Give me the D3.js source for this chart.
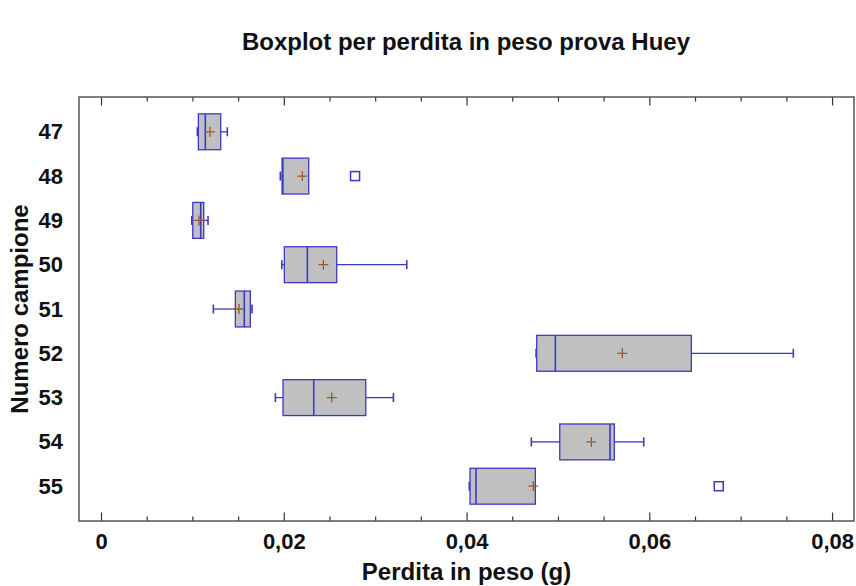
<!DOCTYPE html>
<html>
<head>
<meta charset="utf-8">
<script src="https://cdn.jsdelivr.net/npm/d3@7"></script>
<style>
	body { margin: 0; background: #fff; }
	text { font-family: Arial, "Liberation Sans", sans-serif; font-weight: bold; fill: #111; }
</style>
</head>
<body>
<div id="chart-area"></div>
<script>

// data
var campioni = ["47", "48", "49", "50", "51", "52", "53", "54", "55"];
var minimo   = [0.01054, 0.01962, 0.00993, 0.01978, 0.01229, 0.04761, 0.01908, 0.04709, 0.04030];
var q1       = [0.01065, 0.01981, 0.01004, 0.02006, 0.01470, 0.04768, 0.01992, 0.05020, 0.04038];
var mediana  = [0.01141, 0.01990, 0.01091, 0.02258, 0.01568, 0.04972, 0.02328, 0.05570, 0.04104];
var media    = [0.01193, 0.02203, 0.01072, 0.02433, 0.01510, 0.05705, 0.02525, 0.05366, 0.04731];
var q3       = [0.01310, 0.02273, 0.01124, 0.02579, 0.01634, 0.06460, 0.02897, 0.05617, 0.04753];
var massimo  = [0.01382, 0.02273, 0.01171, 0.03346, 0.01653, 0.07576, 0.03200, 0.05939, 0.04753];
var anomali  = [[], [0.0278], [], [], [], [], [], [], [0.0676]];
var xTicks   = [0, 0.02, 0.04, 0.06, 0.08];

const widthinput = 856;
const heightinput = 586;

var margin = { top: 97, right: 2, bottom: 65, left: 79 };
var width = widthinput - margin.left - margin.right,
	height = heightinput - margin.top - margin.bottom;

var svg = d3.select("#chart-area")
		.append("svg")
			.attr("width", widthinput)
			.attr("height", heightinput);

var g = svg.append("g")
		.attr("transform", "translate(" + margin.left + ", " + margin.top + ")");

var data = campioni.map(function(c, i) {
	return { c: c, min: minimo[i], q1: q1[i], med: mediana[i], mean: media[i], q3: q3[i], max: massimo[i], out: anomali[i] };
});

var it = d3.formatLocale({ decimal: ",", thousands: ".", grouping: [3], currency: ["", "€"] });

// x-scale
var x = d3.scaleLinear()
		.domain([-0.00241, 0.0824])
		.range([0, width]);

// y-scale
var y = d3.scalePoint()
		.domain(campioni)
		.range([0, height])
		.padding(0.785);

var boxH = y.step() * 0.81;
var cap = 9;

// title
svg.append("text")
	.attr("x", 466)
	.attr("y", 50)
	.attr("text-anchor", "middle")
	.style("font-size", "24px")
	.text("Boxplot per perdita in peso prova Huey");

// x-label
g.append("text")
	.attr("x", x(0.04))
	.attr("y", height + 59)
	.attr("text-anchor", "middle")
	.style("font-size", "24px")
	.text("Perdita in peso (g)");

// y-label
g.append("text")
	.attr("x", -height / 2)
	.attr("y", -51)
	.attr("text-anchor", "middle")
	.attr("transform", "rotate(-90)")
	.style("font-size", "24px")
	.text("Numero campione");

// minor ticks
var minor = d3.range(0, 0.0801, 0.005).filter(function(v) {
	return xTicks.every(function(t) { return Math.abs(t - v) > 1e-9; });
});

g.append("g")
	.attr("class", "minor")
	.attr("transform", "translate(0, " + height + ")")
	.call(d3.axisBottom(x).tickValues(minor).tickSize(-4.5).tickFormat(""));
g.append("g")
	.attr("class", "minor")
	.call(d3.axisTop(x).tickValues(minor).tickSize(-4.5).tickFormat(""));

// x-axis
g.append("g")
	.attr("class", "xaxis")
	.attr("transform", "translate(0, " + height + ")")
	.call(d3.axisBottom(x).tickValues(xTicks).tickSize(-8.5).tickPadding(12)
		.tickFormat(function(d) { return it.format(".2~f")(d); }));
g.append("g")
	.attr("class", "xaxis")
	.call(d3.axisTop(x).tickValues(xTicks).tickSize(-8.5).tickFormat(""));

// y-axis
g.append("g")
	.attr("class", "yaxis")
	.call(d3.axisLeft(y).tickSize(0).tickPadding(16));

g.selectAll(".domain").remove();
g.selectAll(".tick line").attr("stroke", "#333").attr("stroke-width", 1.2);
g.selectAll(".xaxis text, .yaxis text")
	.style("font-size", "22px")
	.attr("fill", "#111");

// frame
g.append("rect")
	.attr("width", width)
	.attr("height", height)
	.attr("fill", "none")
	.attr("stroke", "#555")
	.attr("stroke-width", 1.5);

var blue = "#3a3ac4";

var boxes = g.selectAll(".box")
		.data(data)
		.enter()
		.append("g")
			.attr("class", "box")
			.attr("transform", function(d) { return "translate(0, " + y(d.c) + ")"; });

// whiskers
boxes.filter(function(d) { return d.min < d.q1; })
	.append("line")
		.attr("x1", function(d) { return x(d.min); })
		.attr("x2", function(d) { return x(d.q1); })
		.attr("stroke", blue).attr("stroke-width", 1.3);
boxes.filter(function(d) { return d.min < d.q1; })
	.append("line")
		.attr("x1", function(d) { return x(d.min); })
		.attr("x2", function(d) { return x(d.min); })
		.attr("y1", -cap / 2).attr("y2", cap / 2)
		.attr("stroke", blue).attr("stroke-width", 1.6);
boxes.filter(function(d) { return d.max > d.q3; })
	.append("line")
		.attr("x1", function(d) { return x(d.q3); })
		.attr("x2", function(d) { return x(d.max); })
		.attr("stroke", blue).attr("stroke-width", 1.3);
boxes.filter(function(d) { return d.max > d.q3; })
	.append("line")
		.attr("x1", function(d) { return x(d.max); })
		.attr("x2", function(d) { return x(d.max); })
		.attr("y1", -cap / 2).attr("y2", cap / 2)
		.attr("stroke", blue).attr("stroke-width", 1.6);

// boxes
boxes.append("rect")
	.attr("x", function(d) { return x(d.q1); })
	.attr("y", -boxH / 2)
	.attr("width", function(d) { return x(d.q3) - x(d.q1); })
	.attr("height", boxH)
	.attr("fill", "#c0c0c0")
	.attr("stroke", blue)
	.attr("stroke-width", 1.3);

// median
boxes.append("line")
	.attr("x1", function(d) { return x(d.med); })
	.attr("x2", function(d) { return x(d.med); })
	.attr("y1", -boxH / 2)
	.attr("y2", boxH / 2)
	.attr("stroke", blue)
	.attr("stroke-width", 1.6);

// mean cross
var brown = "#a0562e";
boxes.append("path")
	.attr("d", function(d) {
		var cx = x(d.mean);
		return "M" + (cx - 5) + ",0H" + (cx + 5) + "M" + cx + ",-5V5";
	})
	.attr("stroke", brown)
	.attr("stroke-width", 1.3)
	.attr("fill", "none");

// outliers
boxes.selectAll(".out")
	.data(function(d) { return d.out; })
	.enter()
	.append("rect")
		.attr("class", "out")
		.attr("x", function(v) { return x(v) - 4.5; })
		.attr("y", -4.5)
		.attr("width", 9)
		.attr("height", 9)
		.attr("fill", "#fff")
		.attr("stroke", blue)
		.attr("stroke-width", 1.5);

</script>
</body>
</html>
